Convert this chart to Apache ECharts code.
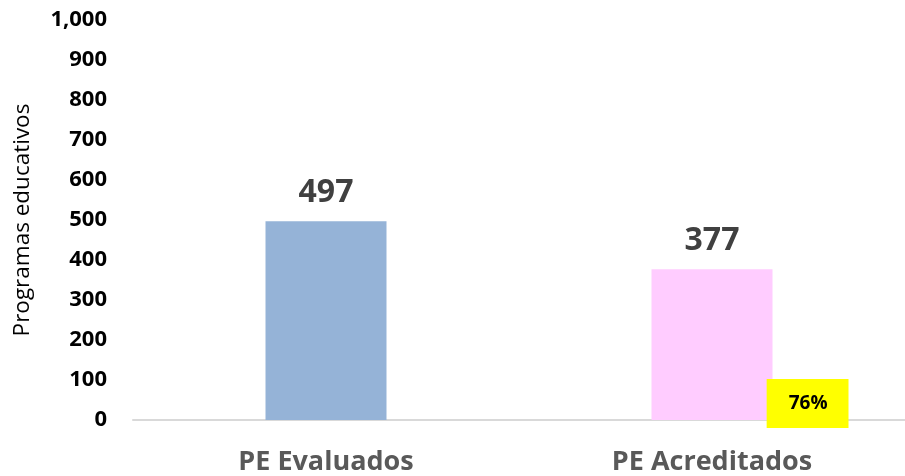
<!DOCTYPE html>
<html>
<head>
<meta charset="utf-8">
<script src="https://cdn.jsdelivr.net/npm/echarts@6/dist/echarts.min.js"></script>
<style>
  html, body { margin: 0; padding: 0; background: #ffffff; }
  #chart { width: 905px; height: 476px; }
</style>
</head>
<body>
<div id="chart"></div>
<script>
var categories = ['PE Evaluados', 'PE Acreditados'];
var values = [497, 377];
var barColors = ['#95b3d7', '#ffccff'];
var yTicks = [0, 100, 200, 300, 400, 500, 600, 700, 800, 900, 1000];

var share = Math.round(values[1] / values[0] * 100) + '%';
var font = '"Open Sans", sans-serif';

var chart = echarts.init(document.getElementById('chart'));

var option = {
    backgroundColor: '#ffffff',
    animation: false,
    grid: { left: 133, right: 0, top: 20, bottom: 56 },
    xAxis: {
        type: 'category',
        data: categories,
        axisLine: { lineStyle: { color: '#d9d9d9', width: 2 } },
        axisTick: { show: false },
        axisLabel: {
            color: '#595959',
            fontFamily: font,
            fontWeight: 'bold',
            fontSize: 27,
            margin: 29
        }
    },
    yAxis: {
        type: 'value',
        min: yTicks[0],
        max: yTicks[yTicks.length - 1],
        interval: 100,
        name: 'Programas educativos',
        nameLocation: 'middle',
        nameGap: 99,
        nameTextStyle: { color: '#000000', fontFamily: font, fontSize: 22.5 },
        axisLine: { show: false },
        axisTick: { show: false },
        splitLine: { show: false },
        axisLabel: {
            color: '#000000',
            fontFamily: font,
            fontWeight: 'bold',
            fontSize: 22,
            margin: 26,
            formatter: function (v) { return v.toLocaleString('en-US'); }
        }
    },
    series: [
        {
            type: 'bar',
            barWidth: 121,
            data: values.map(function (v, i) {
                var item = { value: v, itemStyle: { color: barColors[i] } };
                if (i === 1) {
                    item.label = {
                        show: true,
                        position: 'insideBottomRight',
                        offset: [81, 13],
                        formatter: share,
                        color: '#000000',
                        fontFamily: font,
                        fontWeight: 'bold',
                        fontSize: 19,
                        backgroundColor: '#ffff00',
                        padding: [15, 21, 15, 22]
                    };
                }
                return item;
            }),
            label: { show: false }
        },
        {
            type: 'bar',
            barWidth: 121,
            barGap: '-100%',
            silent: true,
            itemStyle: { color: 'transparent' },
            data: values,
            z: 1,
            label: {
                show: true,
                position: 'top',
                distance: 12,
                color: '#404040',
                fontFamily: font,
                fontWeight: 'bold',
                fontSize: 32
            }
        }
    ]
};

chart.setOption(option);
window.addEventListener('resize', function () { chart.resize(); });
</script>
</body>
</html>
